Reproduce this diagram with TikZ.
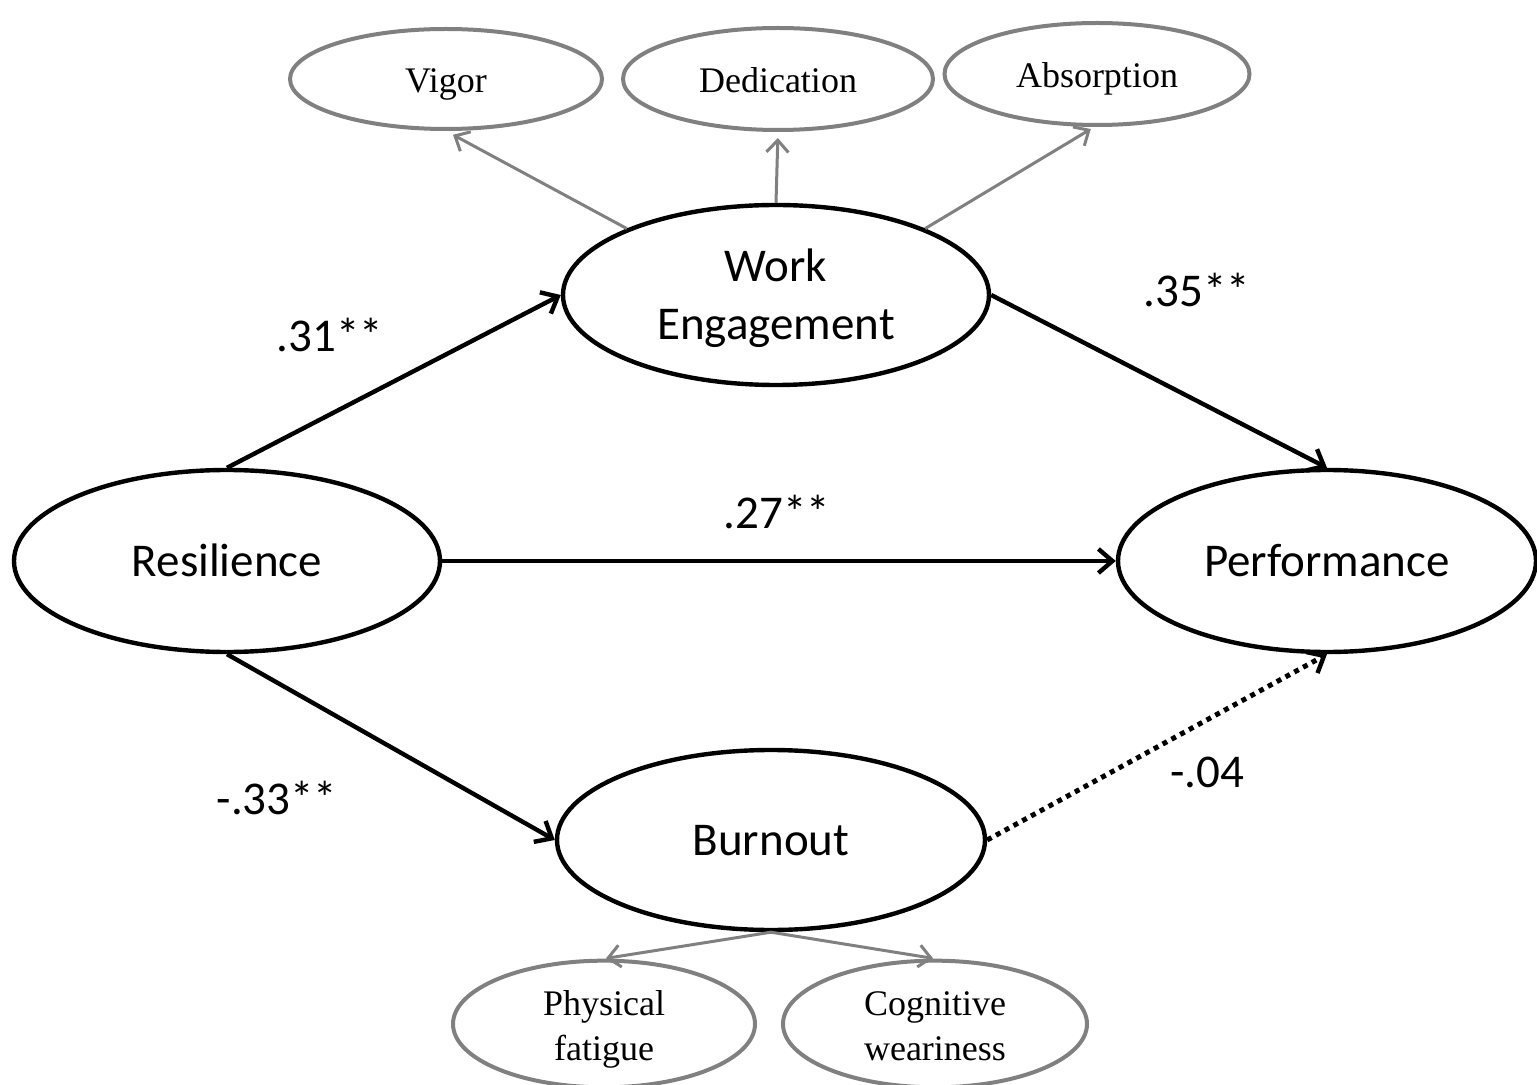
\documentclass[tikz,border=0pt]{standalone}
\usepackage{fontspec}
\setmainfont{Carlito}
\newfontfamily\serifsmall{Liberation Serif}
\usetikzlibrary{shapes.geometric,arrows.meta}
\definecolor{lvgray}{RGB}{128,128,128}
\newcommand\mystrutA{\rule[-0.23\baselineskip]{0pt}{0.99\baselineskip}}
\newcommand\mystrutB{\rule[-0.19\baselineskip]{0pt}{0.99\baselineskip}}
\tikzset{
  bigell/.style={ellipse,draw=black,line width=2.2pt,inner sep=0pt,align=center,
    font=\fontsize{23.5}{29}\selectfont},
  smallell/.style={ellipse,draw=lvgray,line width=2pt,inner sep=0pt,align=center,
    font=\serifsmall\fontsize{18}{22.5}\selectfont},
  patharrow/.style={line width=2.2pt,draw=black,-{Straight Barb[length=7pt,width=12pt,line width=2.2pt]}},
  loadarrow/.style={line width=1.5pt,draw=lvgray,-{Straight Barb[length=6pt,width=11pt,line width=1.5pt]}},
  coef/.style={font=\fontsize{23.5}{29}\selectfont,inner sep=0pt}
}
\begin{document}
\begin{tikzpicture}[x=0.5pt,y=-0.5pt]
\useasboundingbox (0,0) rectangle (1537,1085);
% small indicator ellipses
\node[smallell,minimum width=156pt,minimum height=50pt] (vig) at (446,79) {\mystrutB Vigor};
\node[smallell,minimum width=155pt,minimum height=51pt] (ded) at (778,79) {\mystrutB Dedication};
\node[smallell,minimum width=152.5pt,minimum height=51pt] (abs) at (1097,74) {\mystrutB Absorption};
\node[smallell,minimum width=151pt,minimum height=58pt] (pf) at (604,1024) {\mystrutB Physical\\\mystrutB fatigue};
\node[smallell,minimum width=152pt,minimum height=58pt] (cw) at (935,1024) {\mystrutB Cognitive\\\mystrutB weariness};
% latent variables
\node[bigell,minimum width=213pt,minimum height=90pt] (we) at (776,295) {\mystrutA Work\\\mystrutA Engagement};
\node[bigell,minimum width=213pt,minimum height=91pt] (res) at (227,561) {\mystrutA Resilience};
\node[bigell,minimum width=209pt,minimum height=91pt] (perf) at (1327,561) {\mystrutA Performance};
\node[bigell,minimum width=214pt,minimum height=90pt] (bo) at (771,840) {\mystrutA Burnout};
% loadings
\draw[loadarrow,shorten >=4pt] (we.156) -- (vig.south);
\draw[loadarrow,shorten >=3pt] (we.north) -- (ded.south);
\draw[loadarrow,shorten >=2pt] (we.24) -- (abs.-93);
\draw[loadarrow,shorten >=1pt] (bo.south) -- (pf.north);
\draw[loadarrow,shorten >=1pt] (bo.south) -- (cw.north);
% structural paths
\draw[patharrow] (res.north) -- (we.west);
\draw[patharrow] (we.east) -- (perf.north);
\draw[patharrow] (res.east) -- (perf.west);
\draw[patharrow] (res.south) -- (bo.west);
\draw[patharrow,dash pattern=on 2.5pt off 2.5pt,line width=2.5pt] (bo.east) -- (perf.south);
% coefficients
\node[coef] (c1) at (330,335) {.31**};
\node[coef] (c2) at (1197,290) {.35**};
\node[coef] (c3) at (777,512) {.27**};
\node[coef] (c4) at (277,798) {-.33**};
\node[coef] (c5) at (1207,772) {-.04};
\end{tikzpicture}
\end{document}
